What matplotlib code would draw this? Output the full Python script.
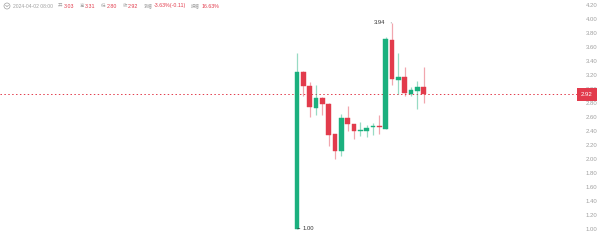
import matplotlib
matplotlib.use('Agg')
import matplotlib.pyplot as plt
import numpy as np
from matplotlib.patches import Circle
from matplotlib.lines import Line2D

plt.rcParams['font.family'] = ['Liberation Sans', 'Noto Sans CJK SC', 'DejaVu Sans']

# hourly OHLC
opens  = [1.00, 3.24, 3.04, 2.73, 2.87, 2.78, 2.35, 2.11, 2.58, 2.50, 2.39,
          2.39, 2.45, 2.47, 2.43, 3.70, 3.13, 3.17, 2.93, 2.97, 3.03]
highs  = [3.51, 3.25, 3.10, 3.05, 2.88, 2.79, 2.36, 2.64, 2.76, 2.50, 2.53,
          2.48, 2.51, 2.62, 3.74, 3.94, 3.51, 3.31, 3.03, 3.11, 3.31]
lows   = [1.00, 2.89, 2.60, 2.62, 2.62, 2.18, 1.99, 2.04, 2.39, 2.28, 2.32,
          2.31, 2.34, 2.36, 2.42, 3.05, 2.93, 2.89, 2.89, 2.71, 2.80]
closes = [3.24, 3.04, 2.74, 2.87, 2.78, 2.34, 2.11, 2.58, 2.50, 2.39, 2.40,
          2.44, 2.47, 2.45, 3.71, 3.14, 3.17, 2.94, 2.98, 3.03, 2.92]

yticks = [1.00, 1.20, 1.40, 1.60, 1.80, 2.00, 2.20, 2.40, 2.60, 2.80,
          3.00, 3.20, 3.40, 3.60, 3.80, 4.00, 4.20]

header_date = '2024-04-02 08:00'
header_labels = ['开', '高', '低', '收', '涨幅', '振幅']
header_values = ['3.03', '3.31', '2.80', '2.92', '-3.63%(-0.11)', '16.63%']

GREEN = '#1bb07e'
RED = '#e23b4c'
GREY = '#a0a0a0'

fig = plt.figure(figsize=(6, 2.41), dpi=100)
ax = fig.add_axes([0, 0, 577 / 600, 1])

x = np.arange(len(opens))
o = np.array(opens); h = np.array(highs); l = np.array(lows); c = np.array(closes)
up = c >= o
cols = np.where(up, GREEN, RED)

ax.vlines(x, l, h, colors=cols, linewidth=0.9, alpha=0.45, zorder=2)
body = np.maximum(np.abs(c - o), 0.018)
ax.bar(x, body, bottom=np.minimum(o, c), width=0.74, color=cols,
       edgecolor=cols, linewidth=0.3, zorder=3)

# last price line
last = closes[-1]
ax.axhline(last, color=RED, linestyle=(0, (1.5, 2.5)), linewidth=0.7, zorder=1)

# high / low markers
hi = int(np.argmax(h)); lo = int(np.argmin(l))
ax.annotate('%.2f' % h[hi], xy=(hi - 0.1, h[hi]), xytext=(hi - 1.0, h[hi]),
            fontsize=4.2, color='#333333', ha='right', va='center',
            arrowprops=dict(arrowstyle='-', color='#333333', lw=0.5))
ax.annotate('%.2f' % l[lo], xy=(lo + 0.1, l[lo]), xytext=(lo + 0.9, l[lo]),
            fontsize=4.2, color='#333333', ha='left', va='center',
            arrowprops=dict(arrowstyle='-', color='#333333', lw=0.5))

ax.set_xlim(-297 / 6.33, (577 - 297) / 6.33)
ax.set_ylim(4.2 - (241 - 4.7) / 70, 4.2 + 4.7 / 70)

ax.yaxis.tick_right()
ax.set_yticks(yticks)
ax.set_yticklabels(['%.2f' % t for t in yticks])
ax.tick_params(axis='y', length=0, pad=6, labelsize=4.3, labelcolor=GREY)
ax.set_xticks([])
for s in ax.spines.values():
    s.set_visible(False)

# current price tag on the axis
ax.text(581 / 577, last, '%.2f' % last, transform=ax.get_yaxis_transform(),
        fontsize=4.3, color='white', ha='left', va='center', zorder=5,
        bbox=dict(boxstyle='square,pad=0.72', fc=RED, ec='none'), clip_on=False)

# header line: icon, then date and label/value pairs laid out left to right
fig.add_artist(Circle((7 / 100, (241 - 6) / 100), 0.03, transform=fig.dpi_scale_trans,
                      fill=False, ec=GREY, lw=0.5))
fig.add_artist(Line2D([5.6 / 100, 7 / 100, 8.4 / 100],
                      [(241 - 5.3) / 100, (241 - 6.6) / 100, (241 - 5.3) / 100],
                      transform=fig.dpi_scale_trans, color=GREY, lw=0.5))

renderer = fig.canvas.get_renderer()
y_hdr = 1 - 6 / 241

def put(px, txt, color, size):
    t = fig.text(px / 600, y_hdr, txt, fontsize=size, va='center', ha='left', color=color)
    return t.get_window_extent(renderer).x1

px = put(12.7, header_date, GREY, 3.6) + 5
for lab, val in zip(header_labels, header_values):
    px = put(px, lab, GREY, 3.2) + 1.2
    px = put(px, val, RED, 3.8) + 5.5

fig.savefig('out.png', dpi=100)
